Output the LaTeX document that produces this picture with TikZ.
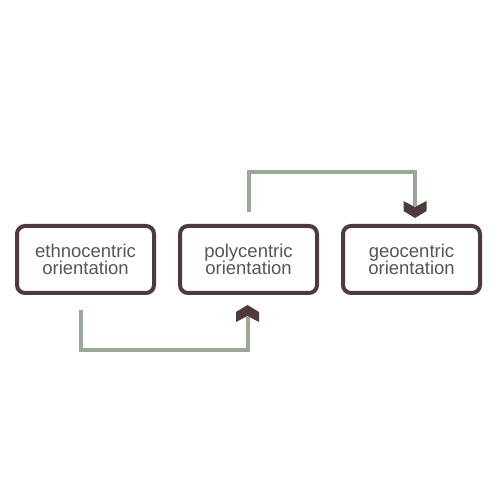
\documentclass[tikz,border=0pt]{standalone}
\usepackage{fontspec}
\setmainfont{Liberation Sans}
\usetikzlibrary{arrows.meta}
\definecolor{boxbrown}{HTML}{4E3A3C}
\definecolor{linkgreen}{HTML}{9AA896}
\definecolor{textgray}{HTML}{555555}
% thick chevron tip in the box colour
\pgfdeclarearrow{
  name=Chevron,
  setup code={
    \pgfarrowssettipend{0pt}
    \pgfarrowssetlineend{-12pt}
    \pgfarrowssetbackend{-17pt}
    \pgfarrowshullpoint{0pt}{0pt}
    \pgfarrowsupperhullpoint{-7pt}{11.5pt}
    \pgfarrowsupperhullpoint{-17pt}{11.5pt}
  },
  drawing code={
    \pgfsetfillcolor{boxbrown}
    \pgfpathmoveto{\pgfpoint{0pt}{0pt}}
    \pgfpathlineto{\pgfpoint{-7pt}{11.5pt}}
    \pgfpathlineto{\pgfpoint{-17pt}{11.5pt}}
    \pgfpathlineto{\pgfpoint{-11pt}{0pt}}
    \pgfpathlineto{\pgfpoint{-17pt}{-11.5pt}}
    \pgfpathlineto{\pgfpoint{-7pt}{-11.5pt}}
    \pgfpathclose
    \pgfusepathqfill
  }
}
\tikzset{
  stage/.style={draw=boxbrown, line width=4pt, rounded corners=8pt, minimum width=137pt, minimum height=67pt, align=center, text=textgray, font=\fontsize{18.5}{17.5}\selectfont},
  link/.style={draw=linkgreen, line width=4pt, -Chevron}
}
\begin{document}
\begin{tikzpicture}[x=1pt, y=1pt]
        \useasboundingbox (0,0) rectangle (500,500);
        % Stages
        \node[stage] (ethno) at (85.5,240.5) {ethnocentric\\orientation};
        \node[stage] (poly) at (248.5,240.5) {polycentric\\orientation};
        \node[stage] (geo) at (411.5,240.5) {geocentric\\orientation};
        % Links
        \draw[link] ([xshift=-4.5pt,yshift=-15pt]ethno.south) -- ++(0,-40.5) -| ([xshift=-1pt,yshift=-10pt]poly.south);
        \draw[link] ([yshift=12pt]poly.north) -- ++(0,40) -| ([xshift=3.5pt,yshift=6pt]geo.north);
\end{tikzpicture}
\end{document}
